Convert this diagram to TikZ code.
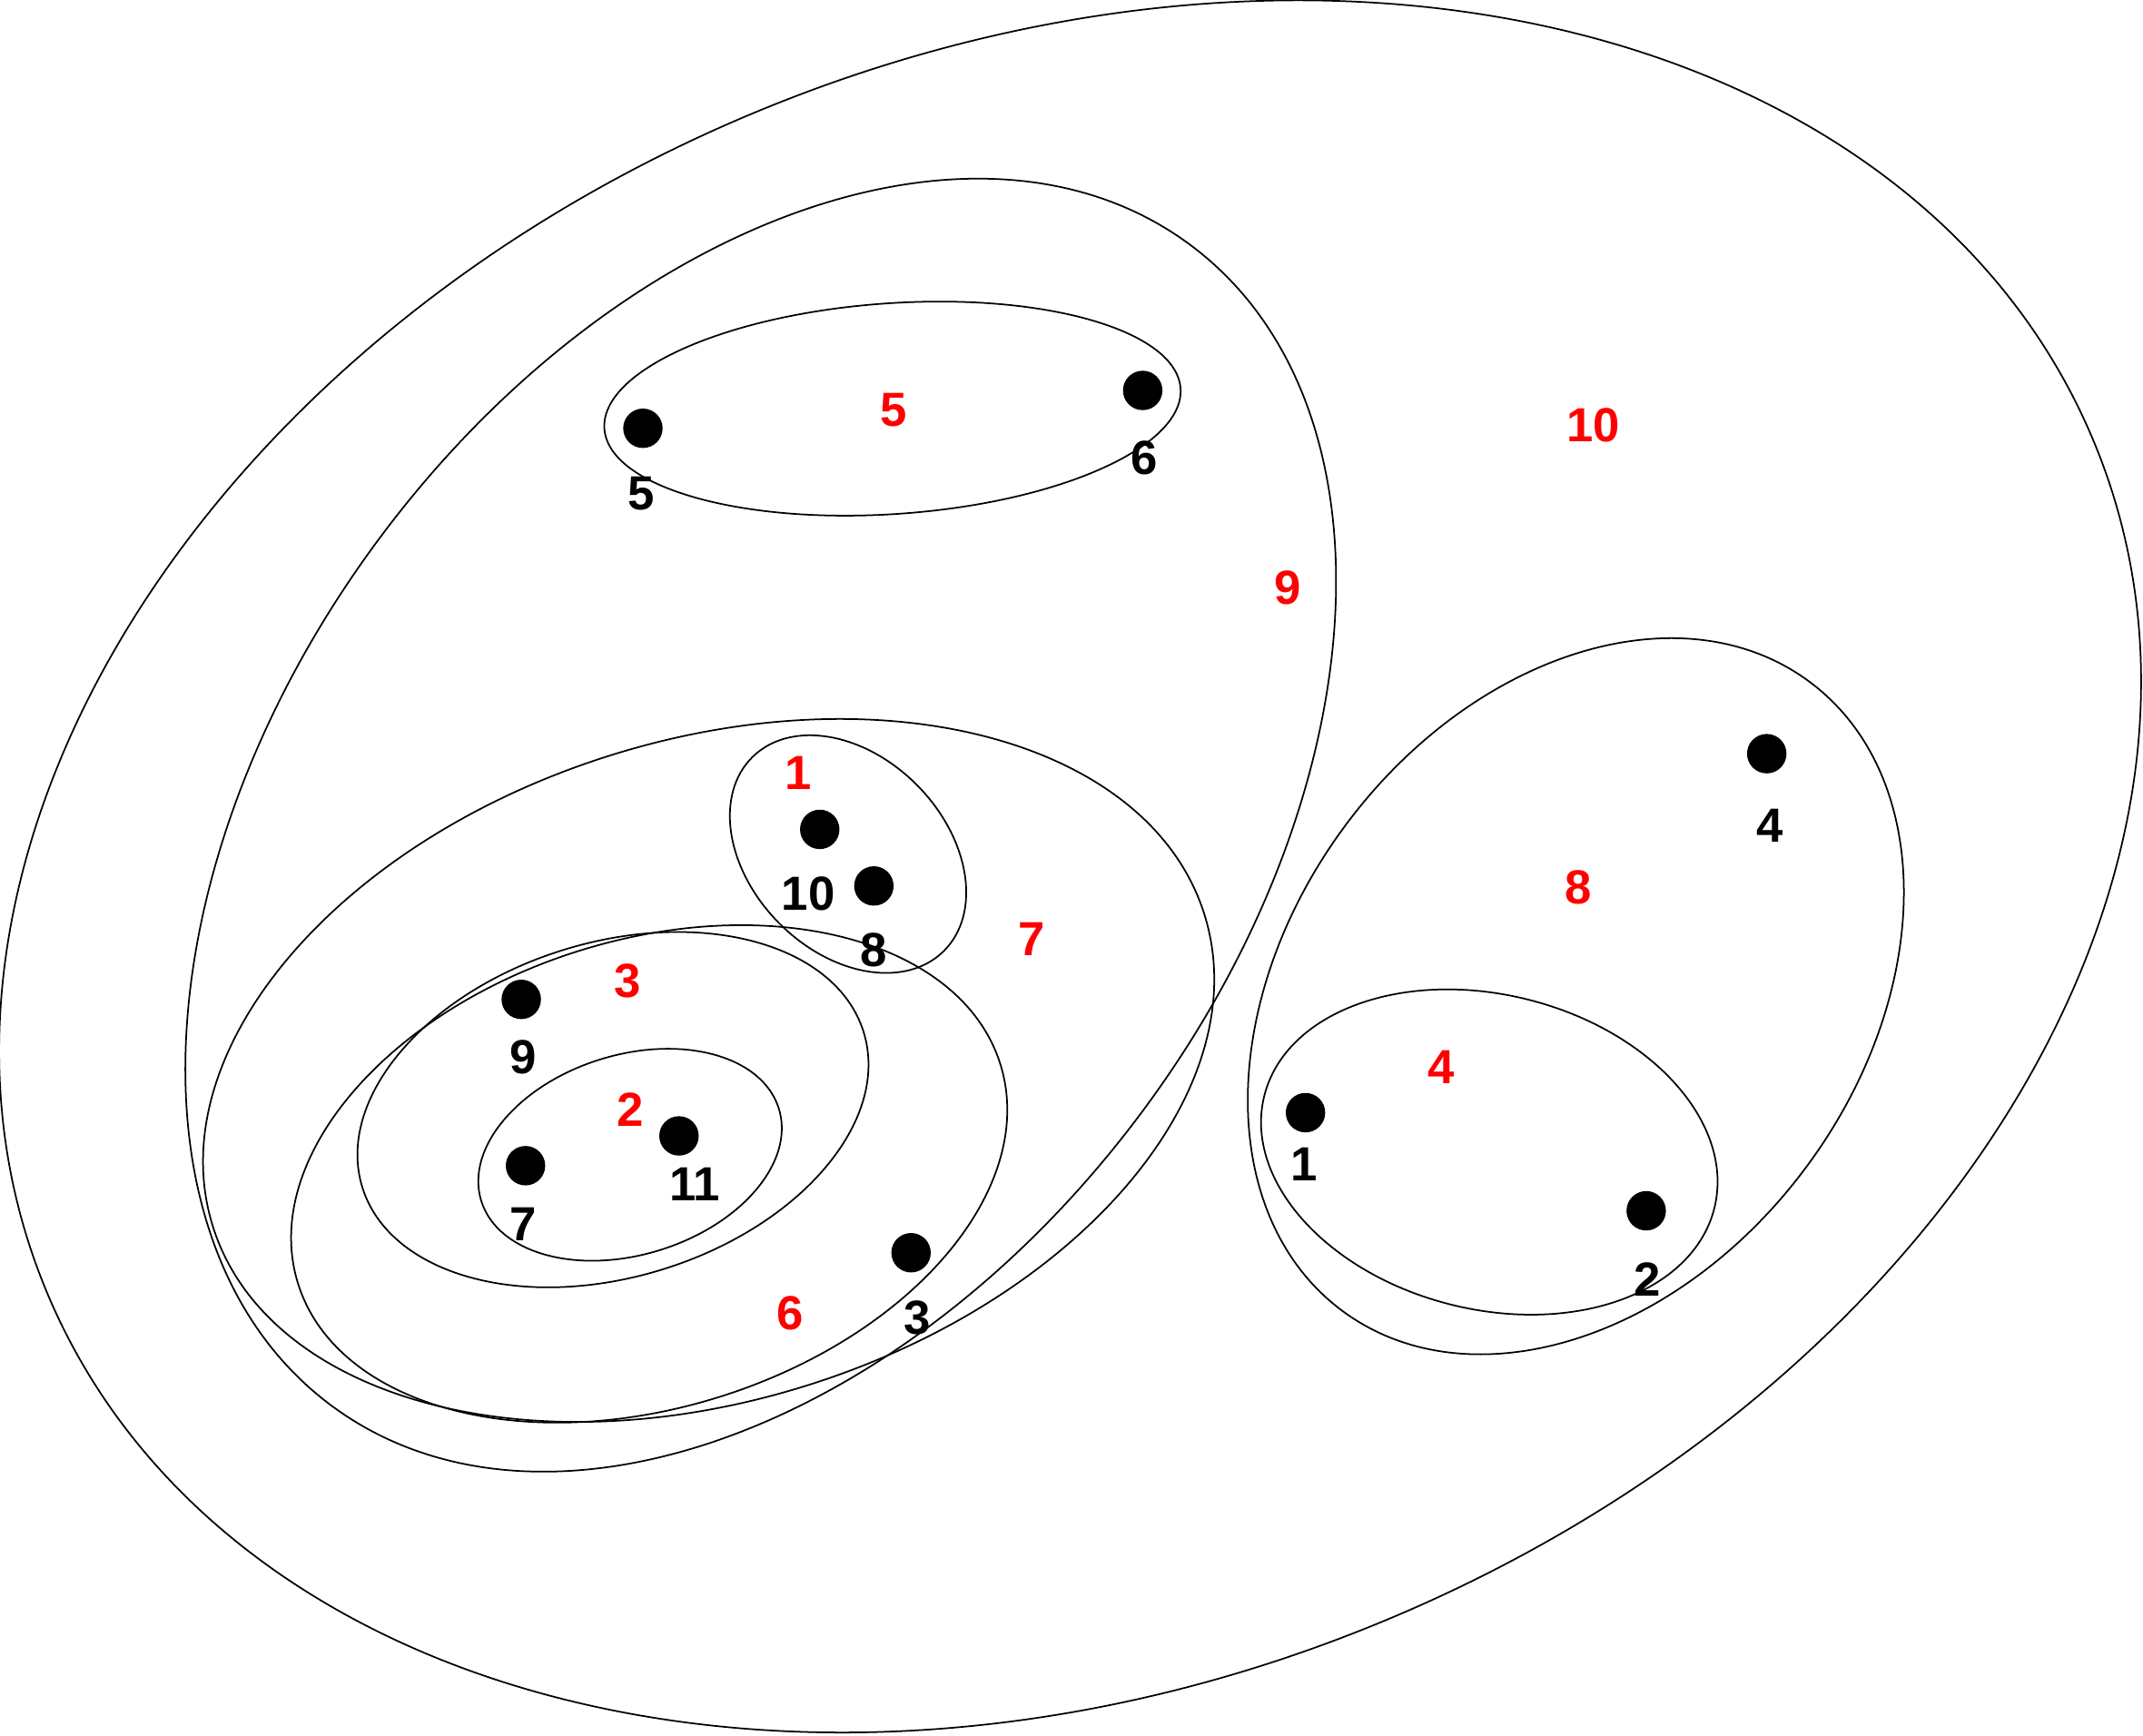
\documentclass[tikz,border=0pt]{standalone}
\usepackage{fontspec}
\setmainfont{Liberation Sans}
\begin{document}
\begin{tikzpicture}[x=0.015051cm, y=-0.015051cm,
  ring/.style={draw=black, line width=0.5pt},
  dot/.style={circle, fill=black, inner sep=0pt, minimum size=0.434cm},
  lbl/.style={font=\fontsize{15}{18}\selectfont\bfseries, text=black, inner sep=0pt},
  rlbl/.style={lbl, text=red}]
\useasboundingbox (0,0) rectangle (1568,1270.3);
% sets (ellipses)
\draw[ring, rotate around={22.5:(783,634)}] (783,634) ellipse (811 and 598);
\draw[ring, rotate around={53.6:(556.6,603.8)}] (556.6,603.8) ellipse (528.3 and 349.1);
\draw[ring, rotate around={4.0:(653,299)}] (653,299) ellipse (211.3 and 77.1);
\draw[ring, rotate around={53.4:(1153,729)}] (1153,729) ellipse (286.7 and 209.9);
\draw[ring, rotate around={-14:(1089.7,843)}] (1089.7,843) ellipse (169.7 and 115.1);
\draw[ring, rotate around={17.5:(518.5,783.3)}] (518.5,783.3) ellipse (380.3 and 241.5);
\draw[ring, rotate around={17.35:(475,859)}] (475,859) ellipse (269.2 and 171.1);
\draw[ring, rotate around={17.2:(448.5,812)}] (448.5,812) ellipse (192 and 122.4);
\draw[ring, rotate around={17.2:(461,845)}] (461,845) ellipse (114 and 73.1);
\draw[ring, rotate around={-45.5:(620.5,625)}] (620.5,625) ellipse (99.7 and 71.4);
% points
\node[dot] (p1) at (955.2,814.2) {};
\node[dot] (p2) at (1204.5,886) {};
\node[dot] (p3) at (666.6,916.7) {};
\node[dot] (p4) at (1292.7,551.5) {};
\node[dot] (p5) at (470.4,313.4) {};
\node[dot] (p6) at (836.1,285.7) {};
\node[dot] (p7) at (384.5,853) {};
\node[dot] (p8) at (639.4,648.3) {};
\node[dot] (p9) at (381.4,731.3) {};
\node[dot] (p10) at (599.8,606.9) {};
\node[dot] (p11) at (496.8,831.2) {};
% point labels
\node[lbl] (l1) at (953.9,852.2) {1};
\node[lbl] (l2) at (1205.1,936.5) {2};
\node[lbl] (l3) at (671.4,964.4) {3};
\node[lbl] (l4) at (1295.3,604.1) {4};
\node[lbl] (l5) at (469.1,361) {5};
\node[lbl] (l6) at (837.5,334.9) {6};
\node[lbl] (l7) at (383,896) {7};
\node[lbl] (l8) at (639.4,695.5) {8};
\node[lbl] (l9) at (383,773.4) {9};
\node[lbl] (l10) at (591.4,653.8) {10};
\node[lbl] (l11) at (508.5,866.9) {11};
% set labels
\node[rlbl] (s1) at (584.3,565.5) {1};
\node[rlbl] (s2) at (461.3,812) {2};
\node[rlbl] (s3) at (459.2,718) {3};
\node[rlbl] (s4) at (1054.4,781) {4};
\node[rlbl] (s5) at (653.7,300.1) {5};
\node[rlbl] (s6) at (578.4,961) {6};
\node[rlbl] (s7) at (755,687.4) {7};
\node[rlbl] (s8) at (1154.8,649.4) {8};
\node[rlbl] (s9) at (942.5,430.2) {9};
\node[rlbl] (s10) at (1166,311) {10};
\end{tikzpicture}
\end{document}
